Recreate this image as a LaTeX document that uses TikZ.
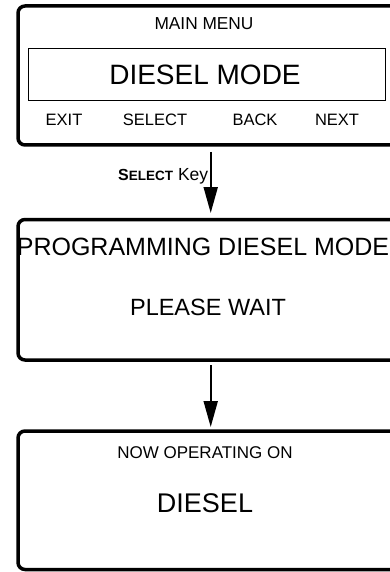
\documentclass[tikz,border=0pt]{standalone}
\usepackage{fontspec}
\setmainfont{Liberation Sans}
\usepackage{tikz}
\usetikzlibrary{positioning, arrows.meta}

\tikzset{
    screen/.style={draw, line width=3.5pt, rounded corners=7pt, outer sep=0pt,
        minimum width=385.4pt, inner sep=0pt},
    lcd/.style={draw, line width=1pt, outer sep=0pt, inner sep=0pt},
    flow/.style={-{Triangle[length=26pt, width=14pt]}, line width=2pt},
    txt/.style={inner sep=0pt, font=\fontsize{#1}{#1}\selectfont},
}

\begin{document}
\begin{tikzpicture}[x=1pt, y=-1pt]
    \useasboundingbox (0,0) rectangle (390,572);
    \clip (0,0) rectangle (390,572);

    % Screens
    \node (menu) [screen, minimum height=139pt] at (210.7,75.5) {};
    \node (prog) [screen, minimum height=140.5pt] at (210.7,289.75) {};
    \node (now) [screen, minimum height=138.5pt] at (210.7,500.25) {};

    % Main menu
    \node (lcdbox) [lcd, minimum width=357pt, minimum height=52.5pt] at (206.5,74.75) {};
    \node (title) [txt=17.3] at (204,24) {MAIN MENU};
    \node (mode) [txt=28] at (205,75) {DIESEL MODE};
    \node (exit) [txt=16.5] at (64,120) {EXIT};
    \node (select) [txt=16.5] at (155,120) {SELECT};
    \node (back) [txt=16.5] at (255,120) {BACK};
    \node (next) [txt=16.5] at (337,120) {NEXT};

    % Programming
    \node (progtext) [txt=25] at (203,247) {PROGRAMMING DIESEL MODE};
    \node (wait) [txt=23.5] at (208,307) {PLEASE WAIT};

    % Operating
    \node (nowtext) [txt=17] at (205,453) {NOW OPERATING ON};
    \node (fuel) [txt=27] at (205,503) {DIESEL};

    % Edges
    \draw[flow, shorten <=7pt, shorten >=6.5pt] (menu.south) --
        node[left=1.5pt, pos=0.42, inner sep=0pt, font=\fontsize{17.5}{17.5}\selectfont]
        {\textbf{\fontsize{16}{16}\selectfont S\fontsize{13.5}{13.5}\selectfont ELECT}\hspace{5pt}Key} (prog.north);
    \draw[flow, shorten <=5pt, shorten >=4pt] (prog.south) -- (now.north);
\end{tikzpicture}
\end{document}
